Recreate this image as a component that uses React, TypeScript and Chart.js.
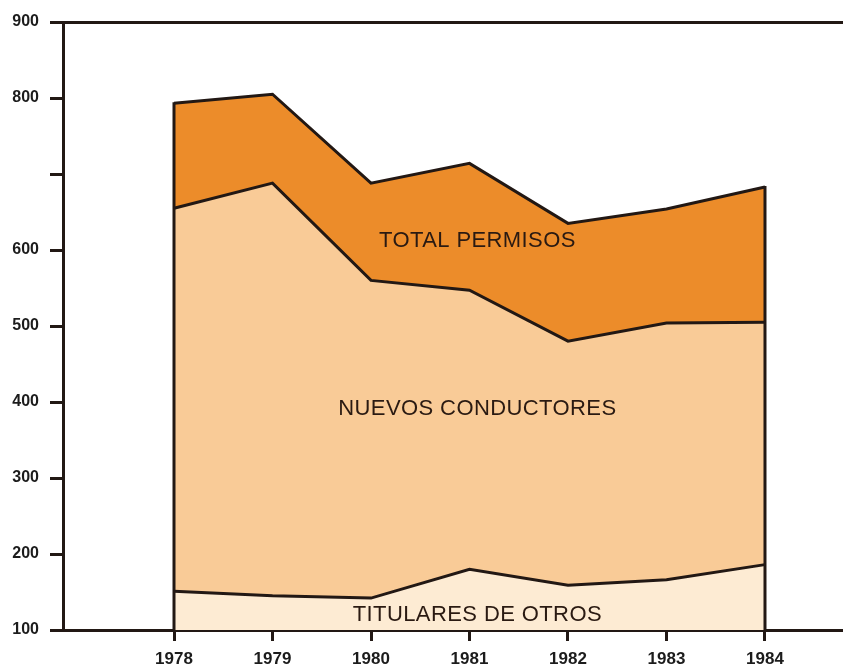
import React, { useEffect, useRef } from "react";
import { Chart, registerables } from "chart.js";

Chart.register(...registerables);

const years = [1978, 1979, 1980, 1981, 1982, 1983, 1984];
const titularesTop = [151, 145, 142, 180, 159, 166, 186];
const nuevosTop = [655, 688, 560, 547, 480, 504, 505];
const totalTop = [793, 805, 688, 714, 635, 654, 683];
const yTickValues = [100, 200, 300, 400, 500, 600, 700, 800, 900];
const yTickLabels = ["100", "200", "300", "400", "500", "600", "", "800", "900"];
const areaLabels = ["TOTAL PERMISOS", "NUEVOS CONDUCTORES", "TITULARES DE OTROS"];
const areaLabelValues = [612, 391, 120];

const INK = "#221814";
const ORANGE = "#EC8C2A";
const PEACH = "#F9CB97";
const CREAM = "#FDEBD3";

const edgePlugin = {
  id: "edges",
  afterDatasetsDraw(chart: any) {
    const { ctx, scales, chartArea } = chart;
    const x = scales.x;
    const y = scales.y;
    ctx.save();
    ctx.strokeStyle = INK;
    ctx.lineWidth = 3;
    [0, years.length - 1].forEach((i) => {
      const px = x.getPixelForValue(years[i]);
      ctx.beginPath();
      ctx.moveTo(px, y.getPixelForValue(totalTop[i]) - 1);
      ctx.lineTo(px, chartArea.bottom);
      ctx.stroke();
    });
    // area labels
    ctx.fillStyle = "#2a1a12";
    ctx.font = '22px "Liberation Sans", Arial, sans-serif';
    ctx.textAlign = "center";
    ctx.textBaseline = "middle";
    try {
      (ctx as any).letterSpacing = "0.4px";
    } catch (e) {}
    const cx = x.getPixelForValue((years[0] + years[years.length - 1]) / 2 + 0.08);
    areaLabels.forEach((t, i) => {
      ctx.fillText(t, cx, y.getPixelForValue(areaLabelValues[i]));
    });
    ctx.restore();
  },
};

export default function App() {
  const ref = useRef<HTMLCanvasElement | null>(null);
  useEffect(() => {
    if (!ref.current) return;
    const chart = new Chart(ref.current, {
      type: "line",
      data: {
        datasets: [
          {
            label: "Titulares de otros",
            data: years.map((yr, i) => ({ x: yr, y: titularesTop[i] })),
            borderColor: INK,
            borderWidth: 3,
            backgroundColor: CREAM,
            fill: "start",
            pointRadius: 0,
            tension: 0,
            borderJoinStyle: "miter",
          },
          {
            label: "Nuevos conductores",
            data: years.map((yr, i) => ({ x: yr, y: nuevosTop[i] })),
            borderColor: INK,
            borderWidth: 3,
            backgroundColor: PEACH,
            fill: "-1",
            pointRadius: 0,
            tension: 0,
            borderJoinStyle: "miter",
          },
          {
            label: "Total permisos",
            data: years.map((yr, i) => ({ x: yr, y: totalTop[i] })),
            borderColor: INK,
            borderWidth: 3,
            backgroundColor: ORANGE,
            fill: "-1",
            pointRadius: 0,
            tension: 0,
            borderJoinStyle: "miter",
          },
        ],
      },
      options: {
        responsive: false,
        animation: false,
        layout: { padding: { top: 22, left: 0, right: 0, bottom: 0 } },
        plugins: {
          legend: { display: false },
          tooltip: { enabled: false },
        },
        scales: {
          x: {
            type: "linear",
            min: 1976.873,
            max: 1984.792,
            afterBuildTicks: (scale: any) => {
              scale.ticks = years.map((v) => ({ value: v }));
            },
            afterFit: (scale: any) => {
              scale.height = 36;
            },
            ticks: {
              autoSkip: false,
              maxRotation: 0,
              padding: 8,
              color: "#1c1c1c",
              font: { family: '"Liberation Sans", Arial, sans-serif', size: 17, weight: "bold" },
              callback: (v: any) => String(v),
            },
            grid: {
              drawOnChartArea: false,
              drawTicks: true,
              tickLength: 11,
              tickWidth: 3,
              tickColor: INK,
            },
            border: { display: true, color: INK, width: 3 },
          },
          y: {
            type: "linear",
            min: 100,
            max: 900,
            afterBuildTicks: (scale: any) => {
              scale.ticks = yTickValues.map((v) => ({ value: v }));
            },
            afterFit: (scale: any) => {
              scale.width = 63;
            },
            ticks: {
              padding: 11,
              color: "#1c1c1c",
              font: { family: '"Liberation Sans", Arial, sans-serif', size: 16, weight: "bold" },
              callback: (v: any) => yTickLabels[yTickValues.indexOf(Number(v))] ?? "",
            },
            grid: {
              drawOnChartArea: true,
              color: (c: any) => (c.tick && c.tick.value === 900 ? INK : "rgba(0,0,0,0)"),
              lineWidth: 3,
              tickLength: 13,
              tickWidth: 3,
              tickColor: INK,
            },
            border: { display: true, color: INK, width: 3 },
          },
        },
      },
      plugins: [edgePlugin],
    } as any);
    return () => chart.destroy();
  }, []);
  return (
    <div style={{ position: "fixed", left: 0, top: 0, width: 843, height: 666, background: "#fff" }}>
      <canvas ref={ref} width={843} height={666} style={{ display: "block" }} />
    </div>
  );
}
